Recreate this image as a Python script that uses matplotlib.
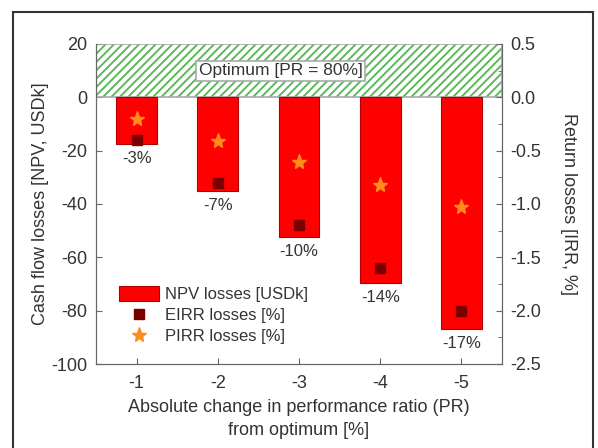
import matplotlib
matplotlib.use("Agg")
import matplotlib.pyplot as plt
from matplotlib.patches import Rectangle
import numpy as np

plt.rcParams['font.family'] = ['Liberation Sans', 'DejaVu Sans']
plt.rcParams['hatch.linewidth'] = 1.4
plt.rcParams['axes.unicode_minus'] = False

# data
pr_change = ['-1', '-2', '-3', '-4', '-5']
npv_losses = [-17.5, -35, -52.5, -69.5, -87]          # USDk, left axis
eirr_losses = [-0.4, -0.8, -1.2, -1.6, -2.0]           # %, right axis
pirr_losses = [-0.2, -0.41, -0.61, -0.82, -1.03]       # %, right axis
pct_labels = ['-3%', '-7%', '-10%', '-14%', '-17%']
optimum_band = (0, 20)
optimum_text = 'Optimum [PR = 80%]'

text_col = '#333333'
spine_col = '#666666'

fig = plt.figure(figsize=(5.98, 4.48), dpi=100)
ax = fig.add_axes([0.1605, 0.1875, 0.679, 0.7143])
ax2 = ax.twinx()

x = np.arange(len(pr_change))

# hatched optimum band
ax.axhspan(*optimum_band, facecolor='white', edgecolor='#5cb85c', hatch='////', lw=0, zorder=1)
ax.axhspan(*optimum_band, facecolor='none', edgecolor='#aaaaaa', lw=1.2, zorder=2)
ax.text(0.455, 10, optimum_text, transform=ax.get_yaxis_transform(), ha='center', va='center',
        fontsize=12.5, color=text_col, zorder=5,
        bbox=dict(boxstyle='square,pad=0.15', facecolor='white', edgecolor='#aaaaaa', lw=1.2))

bars = ax.bar(x, npv_losses, width=0.5, color='#ff0000', edgecolor='#b00000', lw=0.8,
              zorder=3, label='NPV losses [USDk]')
for xi, v, lab in zip(x, npv_losses, pct_labels):
    ax.annotate(lab, (xi, v), xytext=(0, -5), textcoords='offset points',
                ha='center', va='top', fontsize=12, color=text_col)

eirr, = ax2.plot(x, eirr_losses, 's', color='#7a0000', ms=7.5, ls='none',
                 label='EIRR losses [%]', zorder=4)
pirr, = ax2.plot(x, pirr_losses, '*', color='#ff8c1a', ms=11, ls='none',
                 label='PIRR losses [%]', zorder=4)

ax.set_xlim(-0.5, 4.5)
ax.set_ylim(-100, 20)
ax2.set_ylim(-2.5, 0.5)
ax.set_xticks(x)
ax.set_xticklabels(pr_change)
ax.set_yticks(np.arange(-100, 21, 20))
ax2.set_yticks(np.arange(-2.5, 0.51, 0.5))
ax2.set_yticks(np.arange(-2.25, 0.5, 0.5), minor=True)
ax2.set_yticklabels(['%.1f' % t for t in np.arange(-2.5, 0.51, 0.5)])

for a in (ax, ax2):
    a.tick_params(direction='in', colors=spine_col, labelcolor=text_col, labelsize=13, length=4)
    a.tick_params(which='minor', direction='in', colors=spine_col, length=3)
    for s in a.spines.values():
        s.set_color(spine_col)
    a.spines['top'].set_visible(False)
ax.tick_params(axis='x', pad=8)
ax2.tick_params(axis='y', pad=6)
ax.tick_params(axis='y', pad=6)

ax.set_xlabel('Absolute change in performance ratio (PR)\nfrom optimum [%]',
              fontsize=13, color=text_col, labelpad=5, linespacing=1.45)
ax.set_ylabel('Cash flow losses [NPV, USDk]', fontsize=13, color=text_col, labelpad=2)
ax2.set_ylabel('Return losses [IRR, %]', fontsize=13, color=text_col, rotation=270, labelpad=26)

ax2.legend([bars, eirr, pirr], [bars.get_label(), eirr.get_label(), pirr.get_label()],
           loc='upper left', bbox_to_anchor=(0.035, 0.27), frameon=False, fontsize=12,
           handlelength=2.4, handleheight=1.0, labelspacing=0.3, borderpad=0,
           handletextpad=0.4, labelcolor=text_col)

# outer frame around the figure
fig.patches.append(Rectangle((13 / 598, -0.02), 580 / 598, 1.02 - 12 / 448, transform=fig.transFigure,
                             fill=False, edgecolor='#333333', lw=1.5))

fig.savefig('out.png', dpi=100)
